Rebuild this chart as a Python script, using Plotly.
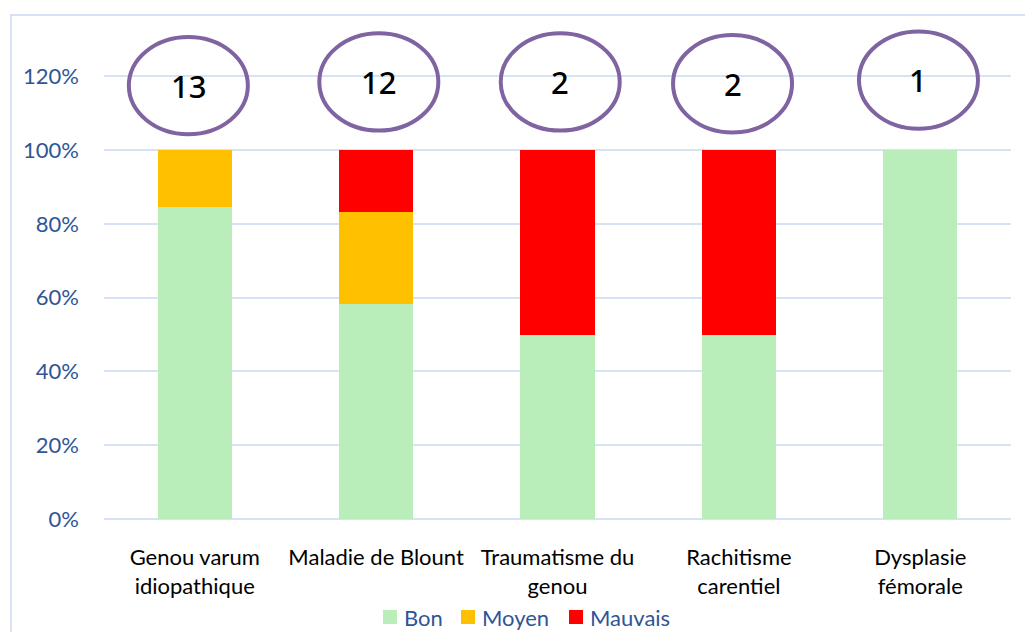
import plotly.graph_objects as go

# Pathologies and outcome distribution (%)
categories = ["Genou varum<br>idiopathique", "Maladie de Blount", "Traumatisme du<br>genou",
              "Rachitisme<br>carentiel", "Dysplasie<br>fémorale"]
series_names = ["Bon", "Moyen", "Mauvais"]
bon = [84.6, 58.3, 50.0, 50.0, 100.0]
moyen = [15.4, 25.0, 0.0, 0.0, 0.0]
mauvais = [0.0, 16.7, 50.0, 50.0, 0.0]
effectifs = [13, 12, 2, 2, 1]
y_ticks = [0, 20, 40, 60, 80, 100, 120]

# Styling
colors = {"Bon": "#B9EDB9", "Moyen": "#FFC000", "Mauvais": "#FF0000"}
label_blue = "#2F5597"
grid_blue = "#D6E3F5"
ring_color = "#8064A2"
ring_dx = [-0.035, 0.015, 0.015, -0.035, -0.01]   # horizontal nudge of each ring (category units)
ring_cy = [117.5, 118.5, 118.5, 118.0, 119.0]     # ring centre height (axis units)
ring_half_w = 0.328
ring_half_h = 13.2

# Figure geometry (pixels)
W, H = 1025, 632
M_L, M_R, M_T, M_B = 104, 14, 10, 113
PW, PH = W - M_L - M_R, H - M_T - M_B


def px_x(p):
    return (p - M_L) / PW


def px_y(p):
    return (H - M_B - p) / PH


fig = go.Figure()
for name, vals in zip(series_names, [bon, moyen, mauvais]):
    fig.add_trace(go.Bar(
        name=name, x=list(range(len(categories))), y=vals,
        marker=dict(color=colors[name], line=dict(width=0)),
        width=0.41, showlegend=False,
    ))

shapes = []
annotations = []
for i, n in enumerate(effectifs):
    cx = i + ring_dx[i]
    shapes.append(dict(
        type="circle", xref="x", yref="y",
        x0=cx - ring_half_w, x1=cx + ring_half_w,
        y0=ring_cy[i] - ring_half_h, y1=ring_cy[i] + ring_half_h,
        line=dict(color=ring_color, width=4), fillcolor="rgba(0,0,0,0)",
        layer="above",
    ))
    annotations.append(dict(
        x=cx, y=ring_cy[i], xref="x", yref="y", text=str(n), showarrow=False,
        font=dict(family="Noto Sans", size=31, color="black", weight=500),
        xanchor="center", yanchor="middle",
    ))

# legend row below the category labels
legend_left = [383, 461, 569]   # swatch left edge of each entry
for name, left in zip(series_names, legend_left):
    shapes.append(dict(
        type="rect", xref="paper", yref="paper",
        x0=px_x(left), x1=px_x(left + 14), y0=px_y(624), y1=px_y(610),
        line=dict(width=0), fillcolor=colors[name],
    ))
    annotations.append(dict(
        x=px_x(left + 19), y=px_y(617), xref="paper", yref="paper",
        text=name, showarrow=False, xanchor="left", yanchor="middle",
        font=dict(family="Lato", size=22, color=label_blue),
    ))

# outer chart frame
shapes.append(dict(
    type="rect", xref="paper", yref="paper",
    x0=px_x(11), x1=px_x(1040), y0=px_y(660), y1=px_y(15),
    line=dict(color=grid_blue, width=2), fillcolor="rgba(0,0,0,0)", layer="below",
))

fig.update_layout(
    barmode="stack",
    width=W, height=H,
    margin=dict(l=M_L, r=M_R, t=M_T, b=M_B, autoexpand=False),
    paper_bgcolor="white", plot_bgcolor="white",
    font=dict(family="Lato", size=22, color="black"),
    shapes=shapes, annotations=annotations,
    showlegend=False,
    xaxis=dict(
        tickmode="array", tickvals=list(range(len(categories))), ticktext=categories,
        range=[-0.5, len(categories) - 0.5], automargin=False,
        showgrid=False, zeroline=False, showline=False, ticks="",
        tickfont=dict(family="Lato", size=22, color="black"),
        ticklabelstandoff=23,
    ),
    yaxis=dict(
        range=[0, 138], tickmode="array", tickvals=y_ticks,
        ticktext=[f"{v}%" for v in y_ticks], automargin=False,
        showgrid=True, gridcolor=grid_blue, gridwidth=1.5,
        zeroline=True, zerolinecolor=grid_blue, zerolinewidth=1.5,
        showline=False, ticks="",
        tickfont=dict(family="Lato", size=22, color=label_blue),
        ticklabelstandoff=24,
    ),
)

fig.write_html("out.html")
